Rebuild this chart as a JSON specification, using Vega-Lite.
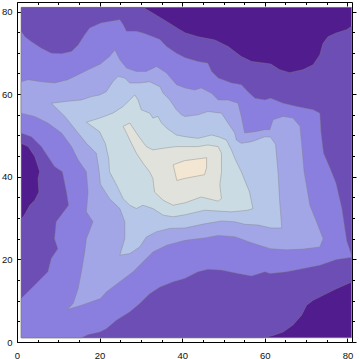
{
"$schema": "https://vega.github.io/schema/vega-lite/v6.json",
"width": 335, "height": 340,
"autosize": {"type": "none"},
"padding": {"left": 17, "top": 2, "right": 8, "bottom": 17},
"config": {"view": {"stroke": null}, "axis": {"grid": false, "title": null, "domainColor": "#000", "tickColor": "#000", "domainWidth": 1, "tickWidth": 1, "labelColor": "#111", "labelFont": "Liberation Sans", "labelFontSize": 9.5, "labelFlush": false, "labelOverlap": false}},
"data": {"values": [
{"level":0,"i":0,"x":1,"y":1},{"level":0,"i":1,"x":81,"y":1},{"level":0,"i":2,"x":81,"y":81},{"level":0,"i":3,"x":1,"y":81},{"level":0,"i":4,"x":1,"y":1},
{"level":1,"i":0,"x":1,"y":1},{"level":1,"i":1,"x":59.6,"y":1},{"level":1,"i":2,"x":62,"y":1.6},{"level":1,"i":3,"x":64.4,"y":2.4},{"level":1,"i":4,"x":66.8,"y":4.1},{"level":1,"i":5,"x":68.9,"y":6.5},{"level":1,"i":6,"x":70.1,"y":8.9},{"level":1,"i":7,"x":71.7,"y":10.1},{"level":1,"i":8,"x":74.1,"y":11.3},{"level":1,"i":9,"x":77.3,"y":12.9},{"level":1,"i":10,"x":81,"y":14.5},{"level":1,"i":11,"x":81,"y":76.4},{"level":1,"i":12,"x":79.8,"y":75.6},{"level":1,"i":13,"x":77.3,"y":74.8},{"level":1,"i":14,"x":75.3,"y":73.9},{"level":1,"i":15,"x":74.1,"y":72.3},{"level":1,"i":16,"x":73.3,"y":69.5},{"level":1,"i":17,"x":71.7,"y":67.1},{"level":1,"i":18,"x":69.2,"y":65.9},{"level":1,"i":19,"x":66,"y":65.2},{"level":1,"i":20,"x":63.6,"y":65.9},{"level":1,"i":21,"x":61.4,"y":67.3},{"level":1,"i":22,"x":56.8,"y":67.9},{"level":1,"i":23,"x":54.3,"y":69.1},{"level":1,"i":24,"x":51.1,"y":71.5},{"level":1,"i":25,"x":47.9,"y":73.1},{"level":1,"i":26,"x":43.8,"y":73.9},{"level":1,"i":27,"x":40.8,"y":74.8},{"level":1,"i":28,"x":39.4,"y":75.6},{"level":1,"i":29,"x":36.2,"y":77.6},{"level":1,"i":30,"x":32.9,"y":79.6},{"level":1,"i":31,"x":30.5,"y":81},{"level":1,"i":32,"x":1,"y":81},{"level":1,"i":33,"x":1,"y":48.1},{"level":1,"i":34,"x":2.7,"y":47.3},{"level":1,"i":35,"x":4.3,"y":44.9},{"level":1,"i":36,"x":5.1,"y":42.5},{"level":1,"i":37,"x":5.5,"y":41.2},{"level":1,"i":38,"x":5.1,"y":39.6},{"level":1,"i":39,"x":5.3,"y":36.3},{"level":1,"i":40,"x":4.3,"y":34.3},{"level":1,"i":41,"x":3.1,"y":33.1},{"level":1,"i":42,"x":2,"y":31.1},{"level":1,"i":43,"x":1.5,"y":30.3},{"level":1,"i":44,"x":1,"y":29.8},{"level":1,"i":45,"x":1,"y":1},
{"level":2,"i":0,"x":1,"y":75.2},{"level":2,"i":1,"x":1.9,"y":73.9},{"level":2,"i":2,"x":3.5,"y":72.7},{"level":2,"i":3,"x":5.9,"y":71.1},{"level":2,"i":4,"x":8.3,"y":69.9},{"level":2,"i":5,"x":10.8,"y":69.8},{"level":2,"i":6,"x":13.2,"y":70.3},{"level":2,"i":7,"x":14.8,"y":71.9},{"level":2,"i":8,"x":16.4,"y":74.4},{"level":2,"i":9,"x":17.6,"y":76},{"level":2,"i":10,"x":20.3,"y":77.2},{"level":2,"i":11,"x":22.4,"y":77.6},{"level":2,"i":12,"x":24.9,"y":78},{"level":2,"i":13,"x":25.7,"y":76.8},{"level":2,"i":14,"x":26.5,"y":75.2},{"level":2,"i":15,"x":28.9,"y":75.2},{"level":2,"i":16,"x":30.5,"y":74.8},{"level":2,"i":17,"x":32.9,"y":73.9},{"level":2,"i":18,"x":34.6,"y":73.2},{"level":2,"i":19,"x":36.2,"y":71.5},{"level":2,"i":20,"x":38.6,"y":69.9},{"level":2,"i":21,"x":40.7,"y":68.8},{"level":2,"i":22,"x":43.8,"y":67.9},{"level":2,"i":23,"x":46.2,"y":67.5},{"level":2,"i":24,"x":47.1,"y":65.5},{"level":2,"i":25,"x":48.7,"y":63.9},{"level":2,"i":26,"x":51.9,"y":62.7},{"level":2,"i":27,"x":54.3,"y":62.3},{"level":2,"i":28,"x":55.9,"y":60.6},{"level":2,"i":29,"x":57.6,"y":59},{"level":2,"i":30,"x":60,"y":58.6},{"level":2,"i":31,"x":61.4,"y":59},{"level":2,"i":32,"x":64.4,"y":57.8},{"level":2,"i":33,"x":67.7,"y":57},{"level":2,"i":34,"x":71.7,"y":56.2},{"level":2,"i":35,"x":73.3,"y":55.4},{"level":2,"i":36,"x":73.6,"y":50.6},{"level":2,"i":37,"x":74.2,"y":45.7},{"level":2,"i":38,"x":75.8,"y":42},{"level":2,"i":39,"x":77.2,"y":38.5},{"level":2,"i":40,"x":78.6,"y":32.5},{"level":2,"i":41,"x":79.8,"y":24.5},{"level":2,"i":42,"x":81,"y":21},{"level":2,"i":43,"x":81,"y":20.5},{"level":2,"i":44,"x":77.3,"y":20},{"level":2,"i":45,"x":73.3,"y":18.6},{"level":2,"i":46,"x":69.3,"y":17.8},{"level":2,"i":47,"x":65.2,"y":17},{"level":2,"i":48,"x":61.3,"y":16.6},{"level":2,"i":49,"x":60,"y":17},{"level":2,"i":50,"x":56.8,"y":16},{"level":2,"i":51,"x":53.5,"y":16.6},{"level":2,"i":52,"x":49.5,"y":17.4},{"level":2,"i":53,"x":46.2,"y":17.6},{"level":2,"i":54,"x":43.8,"y":17},{"level":2,"i":55,"x":40.6,"y":15.4},{"level":2,"i":56,"x":37.8,"y":14.6},{"level":2,"i":57,"x":34.6,"y":13.3},{"level":2,"i":58,"x":32.1,"y":11.7},{"level":2,"i":59,"x":29.7,"y":9.3},{"level":2,"i":60,"x":27.3,"y":7.3},{"level":2,"i":61,"x":24.1,"y":5.3},{"level":2,"i":62,"x":21.6,"y":3.2},{"level":2,"i":63,"x":20,"y":2.4},{"level":2,"i":64,"x":17.2,"y":1.8},{"level":2,"i":65,"x":15.6,"y":1},{"level":2,"i":66,"x":1,"y":1},{"level":2,"i":67,"x":1,"y":10.5},{"level":2,"i":68,"x":4.3,"y":13.8},{"level":2,"i":69,"x":7.5,"y":17},{"level":2,"i":70,"x":8.3,"y":20.2},{"level":2,"i":71,"x":9.9,"y":22.6},{"level":2,"i":72,"x":9.1,"y":25},{"level":2,"i":73,"x":9.5,"y":29.1},{"level":2,"i":74,"x":12.5,"y":33.1},{"level":2,"i":75,"x":12,"y":36.3},{"level":2,"i":76,"x":11,"y":41.2},{"level":2,"i":77,"x":9.1,"y":42.5},{"level":2,"i":78,"x":7.5,"y":44.9},{"level":2,"i":79,"x":5.9,"y":47.3},{"level":2,"i":80,"x":3.5,"y":49.7},{"level":2,"i":81,"x":1,"y":50.6},{"level":2,"i":82,"x":1,"y":75.2},
{"level":3,"i":0,"x":1,"y":63},{"level":3,"i":1,"x":2.7,"y":63.5},{"level":3,"i":2,"x":5.9,"y":63},{"level":3,"i":3,"x":9.1,"y":62.7},{"level":3,"i":4,"x":12.3,"y":63.5},{"level":3,"i":5,"x":14.8,"y":64.7},{"level":3,"i":6,"x":17.2,"y":65.9},{"level":3,"i":7,"x":20.2,"y":67.3},{"level":3,"i":8,"x":22.4,"y":69.1},{"level":3,"i":9,"x":23.7,"y":70.7},{"level":3,"i":10,"x":24.9,"y":68.3},{"level":3,"i":11,"x":26.5,"y":66.3},{"level":3,"i":12,"x":28.9,"y":65.5},{"level":3,"i":13,"x":31.3,"y":65.5},{"level":3,"i":14,"x":33.8,"y":66.7},{"level":3,"i":15,"x":36.2,"y":65.1},{"level":3,"i":16,"x":38.6,"y":62.3},{"level":3,"i":17,"x":40.7,"y":61.5},{"level":3,"i":18,"x":43,"y":61},{"level":3,"i":19,"x":44.6,"y":61.5},{"level":3,"i":20,"x":47.1,"y":60.2},{"level":3,"i":21,"x":48.7,"y":58.6},{"level":3,"i":22,"x":51.1,"y":58.6},{"level":3,"i":23,"x":53.5,"y":57.8},{"level":3,"i":24,"x":54.3,"y":54.6},{"level":3,"i":25,"x":55.1,"y":50.6},{"level":3,"i":26,"x":57.6,"y":50.9},{"level":3,"i":27,"x":60,"y":51.4},{"level":3,"i":28,"x":61.2,"y":51.4},{"level":3,"i":29,"x":62,"y":53.8},{"level":3,"i":30,"x":64.4,"y":54.6},{"level":3,"i":31,"x":66.8,"y":54.2},{"level":3,"i":32,"x":68.5,"y":52.2},{"level":3,"i":33,"x":68.9,"y":48.1},{"level":3,"i":34,"x":69.5,"y":41.2},{"level":3,"i":35,"x":70.9,"y":33.1},{"level":3,"i":36,"x":72.5,"y":29.1},{"level":3,"i":37,"x":74.1,"y":25},{"level":3,"i":38,"x":73.3,"y":23},{"level":3,"i":39,"x":69.3,"y":22.5},{"level":3,"i":40,"x":65.2,"y":22.3},{"level":3,"i":41,"x":61.3,"y":22.6},{"level":3,"i":42,"x":56.8,"y":24},{"level":3,"i":43,"x":52.7,"y":25.5},{"level":3,"i":44,"x":48.7,"y":25.8},{"level":3,"i":45,"x":45.4,"y":25.2},{"level":3,"i":46,"x":40.7,"y":24.6},{"level":3,"i":47,"x":36.2,"y":23.4},{"level":3,"i":48,"x":32.9,"y":21.8},{"level":3,"i":49,"x":30.5,"y":19.4},{"level":3,"i":50,"x":28.1,"y":17},{"level":3,"i":51,"x":24.9,"y":14.6},{"level":3,"i":52,"x":21.6,"y":12.1},{"level":3,"i":53,"x":20.2,"y":10.5},{"level":3,"i":54,"x":15.6,"y":8.9},{"level":3,"i":55,"x":12.3,"y":7.9},{"level":3,"i":56,"x":13.6,"y":9.3},{"level":3,"i":57,"x":14.8,"y":12.9},{"level":3,"i":58,"x":15.6,"y":17},{"level":3,"i":59,"x":16.4,"y":21.8},{"level":3,"i":60,"x":16.8,"y":25},{"level":3,"i":61,"x":18.4,"y":29.1},{"level":3,"i":62,"x":16.8,"y":31.5},{"level":3,"i":63,"x":17.2,"y":36.3},{"level":3,"i":64,"x":16.8,"y":41.2},{"level":3,"i":65,"x":14.8,"y":44.1},{"level":3,"i":66,"x":13.2,"y":47.3},{"level":3,"i":67,"x":10.8,"y":50.6},{"level":3,"i":68,"x":7.5,"y":53},{"level":3,"i":69,"x":4.3,"y":54.6},{"level":3,"i":70,"x":1,"y":55.4},{"level":3,"i":71,"x":1,"y":63},
{"level":4,"i":0,"x":8.3,"y":57.8},{"level":4,"i":1,"x":11.6,"y":58.2},{"level":4,"i":2,"x":15.6,"y":58.6},{"level":4,"i":3,"x":18,"y":59.4},{"level":4,"i":4,"x":20,"y":59.8},{"level":4,"i":5,"x":21.6,"y":60.6},{"level":4,"i":6,"x":23.2,"y":63},{"level":4,"i":7,"x":24.5,"y":64.3},{"level":4,"i":8,"x":26.1,"y":63.9},{"level":4,"i":9,"x":27.3,"y":62.7},{"level":4,"i":10,"x":29.7,"y":62.7},{"level":4,"i":11,"x":32.1,"y":63},{"level":4,"i":12,"x":34.6,"y":61.8},{"level":4,"i":13,"x":35.4,"y":60.2},{"level":4,"i":14,"x":37,"y":58.6},{"level":4,"i":15,"x":38.6,"y":56.2},{"level":4,"i":16,"x":39.8,"y":55},{"level":4,"i":17,"x":40.7,"y":54.6},{"level":4,"i":18,"x":43.8,"y":55},{"level":4,"i":19,"x":46.2,"y":55.8},{"level":4,"i":20,"x":49.5,"y":55.4},{"level":4,"i":21,"x":51.1,"y":53},{"level":4,"i":22,"x":52.7,"y":50.6},{"level":4,"i":23,"x":53.1,"y":48.9},{"level":4,"i":24,"x":54.3,"y":48.1},{"level":4,"i":25,"x":56.8,"y":48.5},{"level":4,"i":26,"x":60,"y":49.7},{"level":4,"i":27,"x":61.4,"y":49.6},{"level":4,"i":28,"x":62.6,"y":47.8},{"level":4,"i":29,"x":63.2,"y":41},{"level":4,"i":30,"x":63.6,"y":34},{"level":4,"i":31,"x":64.1,"y":27.6},{"level":4,"i":32,"x":61.4,"y":27.6},{"level":4,"i":33,"x":58.4,"y":28.3},{"level":4,"i":34,"x":55.1,"y":28.5},{"level":4,"i":35,"x":52.7,"y":29.1},{"level":4,"i":36,"x":49.5,"y":29.3},{"level":4,"i":37,"x":45.4,"y":28.6},{"level":4,"i":38,"x":40.7,"y":27.6},{"level":4,"i":39,"x":37,"y":27.5},{"level":4,"i":40,"x":33.8,"y":26.7},{"level":4,"i":41,"x":31.3,"y":25.4},{"level":4,"i":42,"x":29.7,"y":23},{"level":4,"i":43,"x":27.3,"y":21.4},{"level":4,"i":44,"x":24.9,"y":21},{"level":4,"i":45,"x":26.1,"y":25},{"level":4,"i":46,"x":26.1,"y":29.1},{"level":4,"i":47,"x":24.9,"y":32.3},{"level":4,"i":48,"x":22.4,"y":34.7},{"level":4,"i":49,"x":20.2,"y":38.2},{"level":4,"i":50,"x":19.8,"y":42},{"level":4,"i":51,"x":19.2,"y":45.7},{"level":4,"i":52,"x":16.8,"y":48.1},{"level":4,"i":53,"x":14.8,"y":50.6},{"level":4,"i":54,"x":11.6,"y":54.6},{"level":4,"i":55,"x":8.3,"y":57.8},
{"level":5,"i":0,"x":16.8,"y":53.2},{"level":5,"i":1,"x":20,"y":54.2},{"level":5,"i":2,"x":23.2,"y":55.4},{"level":5,"i":3,"x":25.7,"y":57},{"level":5,"i":4,"x":27.3,"y":58.6},{"level":5,"i":5,"x":28.5,"y":59.8},{"level":5,"i":6,"x":29.3,"y":58.6},{"level":5,"i":7,"x":30.1,"y":56.2},{"level":5,"i":8,"x":32.1,"y":55.4},{"level":5,"i":9,"x":32.9,"y":54.2},{"level":5,"i":10,"x":34.1,"y":54.6},{"level":5,"i":11,"x":35,"y":53},{"level":5,"i":12,"x":36.2,"y":51.8},{"level":5,"i":13,"x":38.6,"y":50.1},{"level":5,"i":14,"x":40.7,"y":49.7},{"level":5,"i":15,"x":43.8,"y":49.3},{"level":5,"i":16,"x":47.1,"y":50.1},{"level":5,"i":17,"x":48.7,"y":49.7},{"level":5,"i":18,"x":50.7,"y":48.9},{"level":5,"i":19,"x":51.9,"y":46.5},{"level":5,"i":20,"x":52.9,"y":44.1},{"level":5,"i":21,"x":54.3,"y":41.2},{"level":5,"i":22,"x":56.3,"y":36.3},{"level":5,"i":23,"x":57.1,"y":32.3},{"level":5,"i":24,"x":55.9,"y":31.9},{"level":5,"i":25,"x":51.9,"y":31.5},{"level":5,"i":26,"x":45.4,"y":31.9},{"level":5,"i":27,"x":40.7,"y":30.8},{"level":5,"i":28,"x":37.8,"y":30.3},{"level":5,"i":29,"x":35.4,"y":30.7},{"level":5,"i":30,"x":32.9,"y":32.3},{"level":5,"i":31,"x":30.5,"y":33.1},{"level":5,"i":32,"x":28.9,"y":32.3},{"level":5,"i":33,"x":27.3,"y":33.1},{"level":5,"i":34,"x":25.7,"y":34.7},{"level":5,"i":35,"x":24.1,"y":38},{"level":5,"i":36,"x":22.4,"y":41.2},{"level":5,"i":37,"x":22.2,"y":44.5},{"level":5,"i":38,"x":21.4,"y":48},{"level":5,"i":39,"x":20,"y":50.9},{"level":5,"i":40,"x":16.8,"y":53.2},
{"level":6,"i":0,"x":25.7,"y":52.2},{"level":6,"i":1,"x":27.3,"y":53},{"level":6,"i":2,"x":28.9,"y":50.6},{"level":6,"i":3,"x":30.1,"y":48.9},{"level":6,"i":4,"x":31.3,"y":47.3},{"level":6,"i":5,"x":32.9,"y":46.5},{"level":6,"i":6,"x":35.4,"y":46.9},{"level":6,"i":7,"x":38.6,"y":47.3},{"level":6,"i":8,"x":40.7,"y":47.3},{"level":6,"i":9,"x":43.8,"y":47.3},{"level":6,"i":10,"x":46.2,"y":47.7},{"level":6,"i":11,"x":48.7,"y":47.3},{"level":6,"i":12,"x":49.5,"y":45.7},{"level":6,"i":13,"x":49.5,"y":41.2},{"level":6,"i":14,"x":49.1,"y":38},{"level":6,"i":15,"x":49.5,"y":34.7},{"level":6,"i":16,"x":48.7,"y":34.1},{"level":6,"i":17,"x":44.6,"y":35.1},{"level":6,"i":18,"x":40.7,"y":33.7},{"level":6,"i":19,"x":37.8,"y":33.1},{"level":6,"i":20,"x":35.4,"y":34.3},{"level":6,"i":21,"x":33.3,"y":36.3},{"level":6,"i":22,"x":32.9,"y":39.6},{"level":6,"i":23,"x":32.1,"y":41.2},{"level":6,"i":24,"x":30.5,"y":43.3},{"level":6,"i":25,"x":28.9,"y":45.7},{"level":6,"i":26,"x":27.7,"y":48.1},{"level":6,"i":27,"x":26.5,"y":50.6},{"level":6,"i":28,"x":25.7,"y":52.2},
{"level":7,"i":0,"x":37.8,"y":42.9},{"level":7,"i":1,"x":40.6,"y":43.9},{"level":7,"i":2,"x":45.9,"y":44.6},{"level":7,"i":3,"x":45.9,"y":42.2},{"level":7,"i":4,"x":45.4,"y":40.5},{"level":7,"i":5,"x":40.6,"y":39.6},{"level":7,"i":6,"x":38.7,"y":39.1},{"level":7,"i":7,"x":37.8,"y":42.9}
]},
"layer": [
{"mark": {"type": "line", "filled": true, "stroke": "#808080", "strokeOpacity": 0.45, "strokeWidth": 0.9},
 "encoding": {
  "x": {"field": "x", "type": "quantitative", "scale": {"domain": [0, 81.1], "nice": false, "zero": false},
        "axis": {"orient": "bottom", "values": [0,5,10,15,20,25,30,35,40,45,50,55,60,65,70,75,80], "labelExpr": "datum.value % 20 === 0 ? datum.label : ''", "tickSize": {"condition": {"test": "datum.value % 20 === 0", "value": -4}, "value": -2.5}, "labelPadding": 12}},
  "y": {"field": "y", "type": "quantitative", "scale": {"domain": [0, 82.3], "nice": false, "zero": false},
        "axis": {"orient": "left", "values": [0,5,10,15,20,25,30,35,40,45,50,55,60,65,70,75,80], "labelExpr": "datum.value % 20 === 0 ? datum.label : ''", "tickSize": {"condition": {"test": "datum.value % 20 === 0", "value": -4}, "value": -2.5}, "labelPadding": 9}},
  "color": {"field": "level", "type": "ordinal", "scale": {"domain": [0,1,2,3,4,5,6,7], "range": ["#511c8d","#6c4eb5","#8a7fdf","#a2a6e6","#b5c6e8","#cadbe3","#e2e2dc","#f3e7d3"]}, "legend": null},
  "order": {"field": "i", "type": "quantitative"}
 }},
{"mark": {"type": "point", "opacity": 0},
 "encoding": {
  "x": {"field": "x", "type": "quantitative", "axis": {"orient": "top", "values": [0,5,10,15,20,25,30,35,40,45,50,55,60,65,70,75,80], "labels": false, "tickSize": {"condition": {"test": "datum.value % 20 === 0", "value": -4}, "value": -2.5}}},
  "y": {"field": "y", "type": "quantitative", "axis": {"orient": "right", "values": [0,5,10,15,20,25,30,35,40,45,50,55,60,65,70,75,80], "labels": false, "tickSize": {"condition": {"test": "datum.value % 20 === 0", "value": 4}, "value": 2.5}}}
 }}
],
"resolve": {"axis": {"x": "independent", "y": "independent"}}
}
